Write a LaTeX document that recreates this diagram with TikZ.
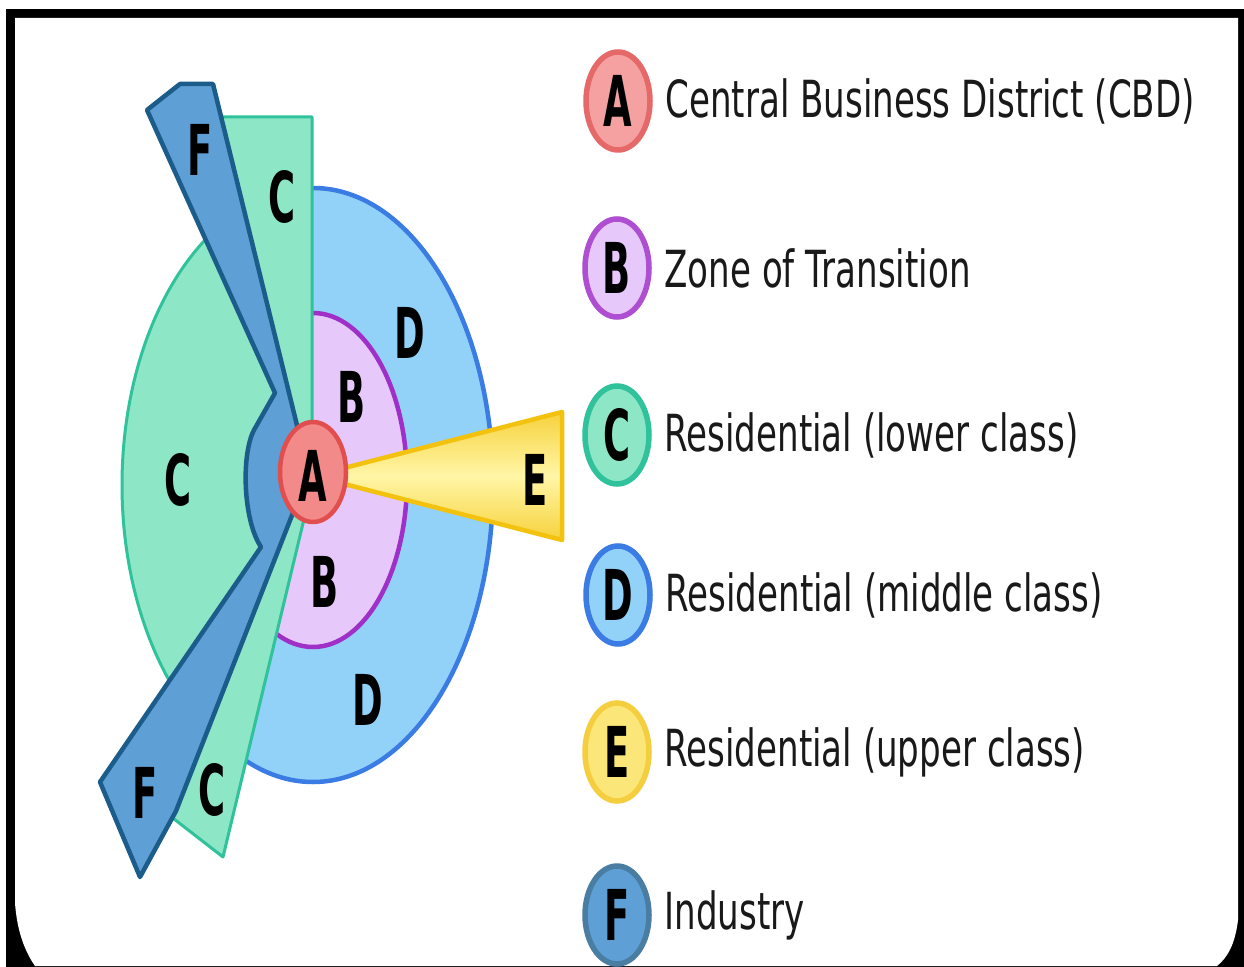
\documentclass[tikz,border=0pt]{standalone}
\usepackage{fontspec}
\setmainfont{DejaVu Sans}
\setsansfont{DejaVu Sans}
\usepackage{graphicx}
\usetikzlibrary{positioning, shapes.geometric}

\definecolor{cbdfill}{HTML}{F28A8A}
\definecolor{cbdline}{HTML}{E04E4E}
\definecolor{transfill}{HTML}{E6C8FB}
\definecolor{transline}{HTML}{A02FC8}
\definecolor{lowfill}{HTML}{8DE6C6}
\definecolor{lowline}{HTML}{30C29A}
\definecolor{midfill}{HTML}{92D2F8}
\definecolor{midline}{HTML}{3A7BE4}
\definecolor{upfill}{HTML}{FFF6A6}
\definecolor{upline}{HTML}{F3C20F}
\definecolor{indfill}{HTML}{5E9FD6}
\definecolor{indline}{HTML}{1B5C8A}

\newcommand{\tagtxt}[1]{\scalebox{1}[1.9]{#1}}
\newcommand{\keytxt}[1]{\scalebox{1}[1.5]{#1}}

\begin{document}
\begin{tikzpicture}[
  x=0.1mm, y=-0.1mm,
  font=\sffamily,
  every node/.style={inner sep=0pt},
  zone/.style={line width=0.45mm, line join=round},
  zonetag/.style={font=\fontsize{10.5}{12}\selectfont\bfseries},
  keydisc/.style={ellipse, draw, line width=0.55mm,
                  minimum width=6.4mm, minimum height=9.8mm, zonetag},
  keylabel/.style={anchor=west, font=\fontsize{9.7}{12}\selectfont, text=black!90}
]

% ====================== FRAME ======================
\fill[white] (0,0) rectangle (1244,967);
\fill[black] (6,9) rectangle (1244,967);
\fill[white] (15,18) -- (1238,18) -- (1238,920)
  .. controls (1235,945) and (1227,958) .. (1217,966) -- (35,966)
  .. controls (24,950) and (17,930) .. (15,903) -- cycle;

% ====================== ZONES ======================
\coordinate (hub) at (313,476);
% D, B rings
\filldraw[zone, fill=midfill, draw=midline] (313,485) ellipse[x radius=180, y radius=297];
\filldraw[zone, fill=transfill, draw=transline] (313,480) ellipse[x radius=94, y radius=167];
% C sector and strips
\filldraw[zone, fill=lowfill, draw=lowline, line width=0.3mm]
  (313,485) -- ++(137:191 and 297) arc[start angle=137, end angle=238, x radius=191, y radius=297] -- cycle;
\filldraw[zone, fill=lowfill, draw=lowline, line width=0.3mm]
  (215,117) -- (312,117) -- (312,470) -- (300,465) -- cycle;
\filldraw[zone, fill=lowfill, draw=lowline, line width=0.3mm]
  (300,490) -- (305,515) -- (223,857) -- (165,812) -- cycle;
% F industry
\filldraw[zone, fill=indfill, draw=indline]
  (180,84) -- (213,84) -- (308,470) -- (298,500) -- (176,811) -- (140,877) -- (100,782)
  -- (261,547) .. controls (243,520) and (241,455) .. (254,430) -- (275,393) -- (147,110) -- cycle;
% E wedge
\shadedraw[zone, draw=upline, top color=upline!70!upfill, bottom color=upline!70!upfill, middle color=upfill]
  (hub) -- (562,412) -- (562,540) -- cycle;
% A centre
\filldraw[zone, fill=cbdfill, draw=cbdline] (313,472) ellipse[x radius=33, y radius=50];

% ====================== ZONE LETTERS ======================
\node[zonetag] (tagA)  at (313,476) {\tagtxt{A}};
\node[zonetag] (tagB1) at (352,397) {\tagtxt{B}};
\node[zonetag] (tagB2) at (325,582) {\tagtxt{B}};
\node[zonetag] (tagC1) at (178,480) {\tagtxt{C}};
\node[zonetag] (tagC2) at (282,197) {\tagtxt{C}};
\node[zonetag] (tagC3) at (212,790) {\tagtxt{C}};
\node[zonetag] (tagD1) at (410,333) {\tagtxt{D}};
\node[zonetag] (tagD2) at (368,700) {\tagtxt{D}};
\node[zonetag] (tagE)  at (535,480) {\tagtxt{E}};
\node[zonetag] (tagF1) at (200,150) {\tagtxt{F}};
\node[zonetag] (tagF2) at (145,793) {\tagtxt{F}};

% ====================== LEGEND ======================
\node[keydisc, fill=cbdfill!80!white, draw=cbdline!85!white] (keyA) at (618,101) {\tagtxt{A}};
\node[keylabel, right=1.2mm of keyA] (txtA) {\keytxt{Central Business District (CBD)}};

\node[keydisc, fill=transfill, draw=transline!85!white] (keyB) at (617,268) {\tagtxt{B}};
\node[keylabel, right=1.2mm of keyB] (txtB) {\keytxt{Zone of Transition}};

\node[keydisc, fill=lowfill, draw=lowline] (keyC) at (617,435) {\tagtxt{C}};
\node[keylabel, right=1.2mm of keyC] (txtC) {\keytxt{Residential (lower class)}};

\node[keydisc, fill=midfill, draw=midline] (keyD) at (618,595) {\tagtxt{D}};
\node[keylabel, right=1.2mm of keyD] (txtD) {\keytxt{Residential (middle class)}};

\node[keydisc, fill=upfill!70!upline, draw=upline!80!white] (keyE) at (617,752) {\tagtxt{E}};
\node[keylabel, right=1.2mm of keyE] (txtE) {\keytxt{Residential (upper class)}};

\node[keydisc, fill=indfill, draw=indline!80!white] (keyF) at (617,915) {\tagtxt{F}};
\node[keylabel, right=1.2mm of keyF] (txtF) {\keytxt{Industry}};

\end{tikzpicture}
\end{document}
